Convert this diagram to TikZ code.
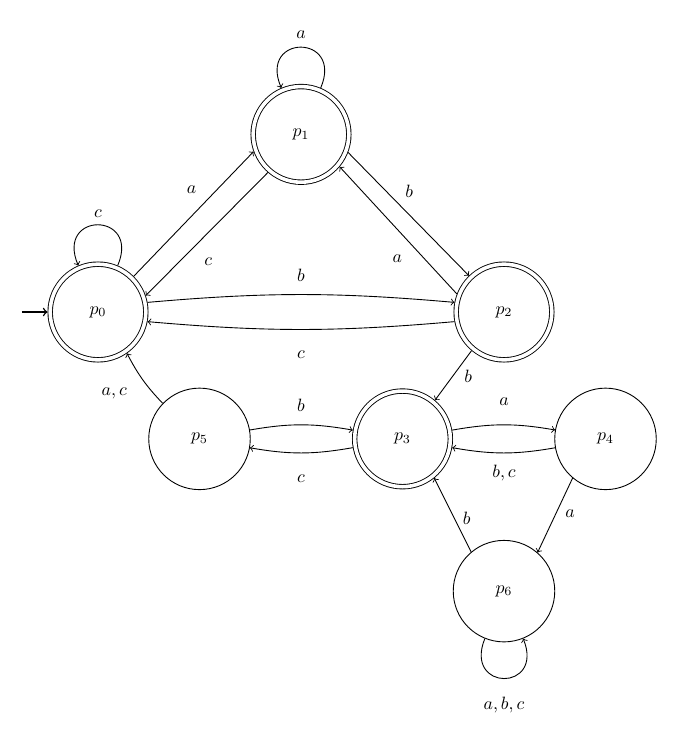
\documentclass[tikz,border=0pt]{standalone}
\begin{document}
\begin{tikzpicture}[
  line width=0.5pt,
  st/.style={circle, draw, minimum size=2cm, inner sep=0pt},
  acc/.style={circle, draw, double, double distance=2pt, minimum size=1.885cm, inner sep=0pt, outer sep=1.5pt},
  tr/.style={->},
  lbl/.style={inner sep=0pt}
]
\useasboundingbox (-1.931,-8.256) rectangle (11.468,6.148);
% states
\node[acc] (p0) at (0,0) {$p_0$};
\node[acc] (p1) at (4,3.5) {$p_1$};
\node[acc] (p2) at (8,0) {$p_2$};
\node[acc] (p3) at (6,-2.5) {$p_3$};
\node[st] (p4) at (10,-2.5) {$p_4$};
\node[st] (p5) at (2,-2.5) {$p_5$};
\node[st] (p6) at (8,-5.5) {$p_6$};
% initial arrow
\coordinate (init) at (-1.5,0);
\draw[tr, line width=0.8pt] (init) -- (p0);
% loops
\draw[tr] (p0.67) .. controls +(67:1.16) and +(113:1.16) .. (p0.113)
  node[lbl] at (0,1.945) {$c$};
\draw[tr] (p1.67) .. controls +(67:1.16) and +(113:1.16) .. (p1.113)
  node[lbl] at (4,5.46) {$a$};
\draw[tr] (p6.-112) .. controls +(-112:1.13) and +(-68:1.13) .. (p6.-68)
  node[lbl] at (8,-7.74) {$a,b,c$};
% p0 <-> p1
\draw[tr] (p0.45) -- (p1.200) node[lbl] at (1.846,2.404) {$a$};
\draw[tr] (p1.229) -- (p0.19) node[lbl] at (2.173,0.991) {$c$};
% p1 <-> p2
\draw[tr] (p1.-21) -- (p2.134) node[lbl] at (6.134,2.37) {$b$};
\draw[tr] (p2.159) -- (p1.-40) node[lbl] at (5.898,1.058) {$a$};
% p0 <-> p2
\draw[tr] (p0.11) to[bend left=5] (p2.169) node[lbl] at (4,0.73) {$b$};
\draw[tr] (p2.191) to[bend left=5] (p0.-11) node[lbl] at (4,-0.847) {$c$};
% p2 -> p3
\draw[tr] (p2.230) -- (p3.50) node[lbl] at (7.297,-1.275) {$b$};
% p5 -> p0
\draw[tr] (p5.136) to[bend left=8] (p0.-55) node[lbl] at (0.32,-1.6) {$a,c$};
% p5 <-> p3
\draw[tr] (p5.10) to[bend left=10] (p3.170) node[lbl] at (4,-1.83) {$b$};
\draw[tr] (p3.190) to[bend left=10] (p5.-10) node[lbl] at (4,-3.277) {$c$};
% p3 <-> p4
\draw[tr] (p3.10) to[bend left=10] (p4.170) node[lbl] at (8,-1.767) {$a$};
\draw[tr] (p4.190) to[bend left=10] (p3.-10) node[lbl] at (8,-3.18) {$b,c$};
% p4 -> p6, p6 -> p3
\draw[tr] (p4.230) -- (p6.49) node[lbl] at (9.3,-3.966) {$a$};
\draw[tr] (p6.130) -- (p3.-51) node[lbl] at (7.265,-4.065) {$b$};
\end{tikzpicture}
\end{document}
